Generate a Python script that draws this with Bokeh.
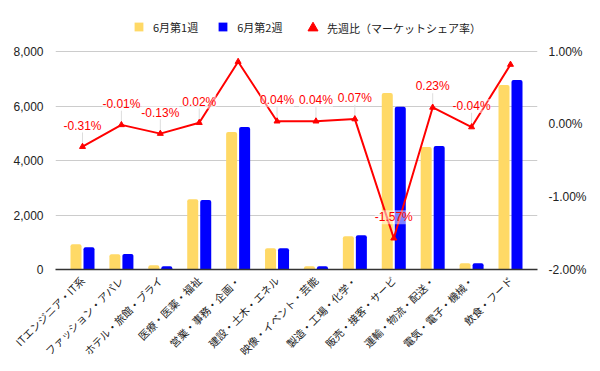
import math
from bokeh.plotting import figure
from bokeh.models import (Range1d, LinearAxis, FixedTicker, PrintfTickFormatter,
                          NumeralTickFormatter, ColumnDataSource, Legend, LegendItem)
from bokeh.transform import dodge
from bokeh.core.properties import value
from bokeh.embed import file_html
from bokeh.resources import INLINE

categories = ["ITエンジニア・IT系", "ファッション・アパレ", "ホテル・旅館・ブライ", "医療・医薬・福祉",
              "営業・事務・企画・", "建設・土木・エネル", "映像・イベント・芸能", "製造・工場・化学・",
              "販売・接客・サービ", "運輸・物流・配送・", "電気・電子・機械・", "飲食・フード"]
week1 = [930, 560, 160, 2580, 5050, 780, 120, 1220, 6480, 4500, 230, 6770]
week2 = [820, 570, 120, 2550, 5230, 780, 120, 1260, 5970, 4530, 230, 6950]
share_change = [-0.31, -0.01, -0.13, 0.02, 0.86, 0.04, 0.04, 0.07, -1.57, 0.23, -0.04, 0.82]
share_labels = ["-0.31%", "-0.01%", "-0.13%", "0.02%", "", "0.04%", "0.04%", "0.07%",
                "-1.57%", "0.23%", "-0.04%", ""]
left_ticks = [0, 2000, 4000, 6000, 8000]
right_ticks = [-2, -1, 0, 1]

YELLOW = "#ffd966"
BLUE = "#0000ff"
RED = "#ff0000"
NUM_FONT = "Liberation Sans"
JP_FONT = "Noto Sans CJK JP"

# frame includes headroom for the legend above the 8,000 gridline
FRAME_H = 259
AXIS_H = 218  # pixels used by the data span 0..8000
left_end = 8000 * FRAME_H / AXIS_H
right_end = -2 + 3 * FRAME_H / AXIS_H

xs = list(range(len(categories)))
src = ColumnDataSource(dict(x=xs, w1=week1, w2=week2, pct=share_change, lab=share_labels))

p = figure(frame_width=482, frame_height=FRAME_H, output_backend="svg", toolbar_location=None,
           x_range=Range1d(-0.694, 11.694), y_range=Range1d(0, left_end),
           min_border_left=55, min_border_right=55, min_border_top=10, min_border_bottom=90)
p.extra_y_ranges = {"pct": Range1d(-2, right_end)}
p.outline_line_color = None
p.background_fill_color = "white"

b1 = p.vbar(x=dodge("x", -0.167, range=p.x_range), top="w1", width=0.283, source=src,
            fill_color=YELLOW, line_color=None, border_radius=(2, 2, 0, 0))
b2 = p.vbar(x=dodge("x", 0.167, range=p.x_range), top="w2", width=0.283, source=src,
            fill_color=BLUE, line_color=None, border_radius=(2, 2, 0, 0))

# leader lines for labels
lab_idx = [i for i, s in enumerate(share_labels) if s]
leader = ColumnDataSource(dict(x=[xs[i] for i in lab_idx],
                               y0=[share_change[i] for i in lab_idx],
                               y1=[share_change[i] + 0.2 for i in lab_idx]))
p.segment(x0="x", y0="y0", x1="x", y1="y1", source=leader, y_range_name="pct",
          line_color="#dddddd", line_width=1)

ln = p.line(x="x", y="pct", source=src, y_range_name="pct", line_color=RED, line_width=2)
mk = p.scatter(x="x", y="pct", source=src, y_range_name="pct", marker="triangle",
               size=6, fill_color=RED, line_color=RED)

p.text(x="x", y="pct", text="lab", source=src, y_range_name="pct", y_offset=-21,
       text_align="center", text_baseline="middle", text_color=RED,
       text_font=value(NUM_FONT), text_font_size="12px",
       background_fill_color="white", background_fill_alpha=0.5)

# axes
xa = p.xaxis[0]
xa.ticker = FixedTicker(ticks=xs)
xa.major_label_overrides = {i: c for i, c in enumerate(categories)}
xa.major_label_orientation = math.pi / 4
xa.major_label_text_font = JP_FONT
xa.major_label_text_font_size = "10.5px"
xa.major_label_text_color = "#222222"
xa.major_tick_line_color = None
xa.minor_tick_line_color = None
xa.axis_line_color = "#333333"
xa.axis_line_width = 1.5
xa.major_label_standoff = 3

ya = p.yaxis[0]
ya.ticker = FixedTicker(ticks=left_ticks)
ya.formatter = NumeralTickFormatter(format="0,0")
ya.axis_line_color = None
ya.major_tick_line_color = None
ya.minor_tick_line_color = None
ya.major_label_text_font = NUM_FONT
ya.major_label_text_font_size = "12px"
ya.major_label_text_color = "#222222"
ya.major_label_standoff = 6

ra = LinearAxis(y_range_name="pct", ticker=FixedTicker(ticks=right_ticks),
                formatter=PrintfTickFormatter(format="%.2f%%"))
ra.axis_line_color = None
ra.major_tick_line_color = None
ra.minor_tick_line_color = None
ra.major_label_text_font = NUM_FONT
ra.major_label_text_font_size = "12px"
ra.major_label_text_color = "#222222"
ra.major_label_standoff = 5
p.add_layout(ra, "right")

p.xgrid.grid_line_color = None
p.ygrid.ticker = FixedTicker(ticks=left_ticks)
p.ygrid.grid_line_color = "#cccccc"

legend_style = dict(orientation="horizontal", padding=0, margin=0, border_line_color=None,
                    background_fill_alpha=0, label_text_font=JP_FONT,
                    label_text_font_size="11px", label_text_color="#222222")

bar_legend = Legend(items=[LegendItem(label="6月第1週", renderers=[b1]),
                           LegendItem(label="6月第2週", renderers=[b2])],
                    location=(78, FRAME_H - 24.5), glyph_width=11, glyph_height=11,
                    label_standoff=9, spacing=19, **legend_style)
p.add_layout(bar_legend, "center")

line_legend = Legend(items=[LegendItem(label="先週比（マーケットシェア率）", renderers=[mk])],
                     location=(245, FRAME_H - 30), glyph_width=25, glyph_height=25,
                     label_standoff=2, spacing=0, **legend_style)
p.add_layout(line_legend, "center")

open("out.html", "w").write(file_html(p, INLINE))
